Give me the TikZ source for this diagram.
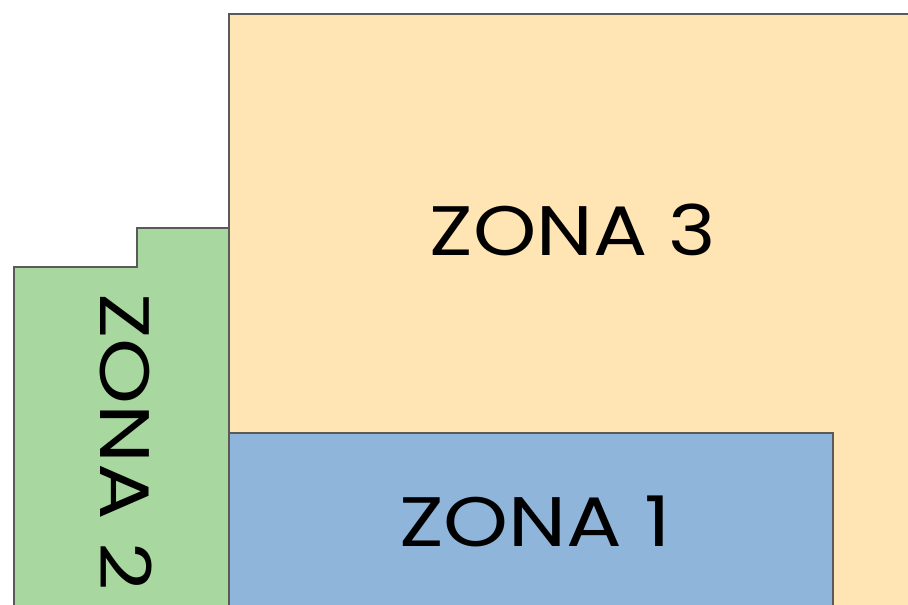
\documentclass[tikz,border=0pt]{standalone}
\usepackage{fontspec}
\setmainfont{Poppins}
\definecolor{zoneyellow}{HTML}{FFE4B4}
\definecolor{zoneblue}{HTML}{8FB5DB}
\definecolor{zonegreen}{HTML}{A8D89F}
\definecolor{zoneline}{HTML}{5A5A5A}
\begin{document}
\begin{tikzpicture}[x=1pt, y=-1pt,
  zone/.style={draw=zoneline, line width=1.3pt},
  every node/.style={font={\fontsize{70}{78}\selectfont}, draw=none, text=black}]
\useasboundingbox (0,0) rectangle (908,605);
\clip (0,0) rectangle (908,605);
% zones
\path[zone, fill=zoneyellow] (229,14) rectangle (930,630);
\path[zone, fill=zonegreen] (14,630) -- (14,267) -- (137,267) -- (137,228) -- (229,228) -- (229,630);
\path[zone, fill=zoneblue] (229,433) rectangle (833,630);
% labels
\node[xscale=1.15] (zona3) at (573,230) {ZONA 3};
\node[xscale=1.18] (zona1) at (535,521) {ZONA 1};
\node[yscale=1.2, rotate=-90] (zona2) at (126,442) {ZONA 2};
\end{tikzpicture}
\end{document}
